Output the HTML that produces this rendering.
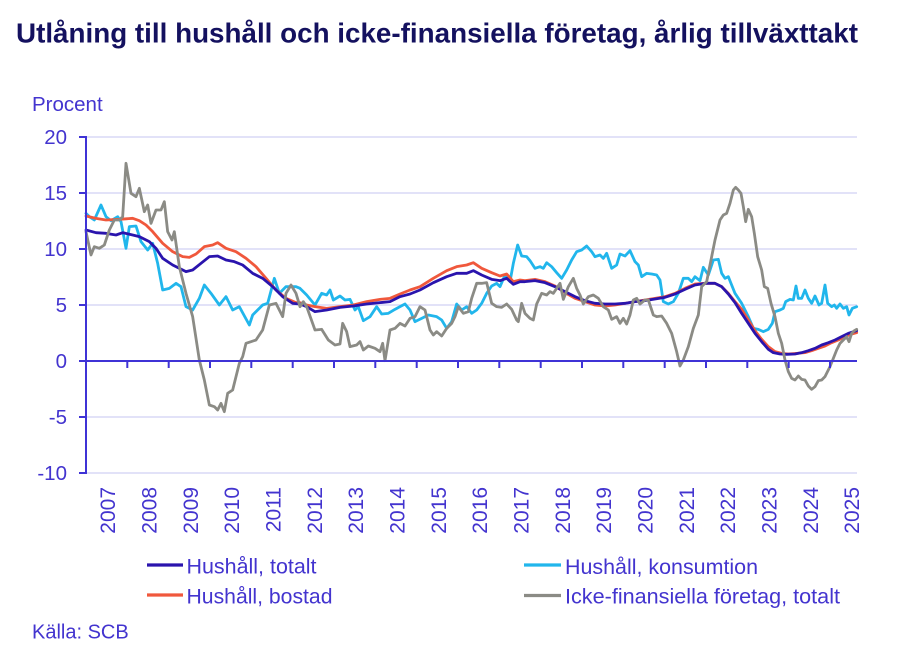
<!DOCTYPE html>
<html>
<head>
<meta charset="utf-8">
<style>
  html, body { margin:0; padding:0; background:#ffffff; }
  svg { display:block; }
  text { font-family: "Liberation Sans", "DejaVu Sans", sans-serif; }
</style>
</head>
<body>
<svg width="908" height="660" viewBox="0 0 908 660" xmlns="http://www.w3.org/2000/svg">
  <rect x="0" y="0" width="908" height="660" fill="#ffffff"/>

  <!-- Title -->
  <text x="16" y="42.5" font-size="27.8" font-weight="bold" fill="#14115f" textLength="842" lengthAdjust="spacingAndGlyphs">Utlåning till hushåll och icke-finansiella företag, årlig tillväxttakt</text>

  <!-- Y axis label -->
  <text x="32" y="111" font-size="20.5" fill="#4334cf">Procent</text>

  <!-- Gridlines -->
  <g stroke="#d9d9f6" stroke-width="1.5">
    <line x1="86" y1="137" x2="857" y2="137"/>
    <line x1="86" y1="193" x2="857" y2="193"/>
    <line x1="86" y1="249" x2="857" y2="249"/>
    <line x1="86" y1="305" x2="857" y2="305"/>
    <line x1="86" y1="417" x2="857" y2="417"/>
    <line x1="86" y1="473" x2="857" y2="473"/>
  </g>

  <!-- Y tick labels -->
  <g font-size="20.5" fill="#4334cf" text-anchor="end">
    <text x="67" y="144">20</text>
    <text x="67" y="200">15</text>
    <text x="67" y="256">10</text>
    <text x="67" y="312">5</text>
    <text x="67" y="368">0</text>
    <text x="67" y="424">-5</text>
    <text x="67" y="480">-10</text>
  </g>

  <!-- Series -->
  <g transform="translate(86,150) scale(0.333333)" fill="none" stroke-linejoin="round" stroke-linecap="round">
    <!-- Hushåll, konsumtion -->
    <polyline vector-effect="non-scaling-stroke" stroke="#21b6ec" stroke-width="2.8" points="0,190 10,200 25,210 45,165 60,200 75,212 95,200 105,215 120,295 130,230 150,228 165,275 185,300 200,280 215,340 230,420 250,415 270,400 285,410 300,470 320,480 340,445 355,405 375,430 400,465 420,440 440,480 460,470 490,525 500,495 530,465 545,460 565,385 580,430 600,410 630,410 642,415 662,435 687,465 707,430 722,435 732,420 742,450 762,438 777,450 792,448 807,480 817,470 832,512 852,500 872,470 887,492 907,490 927,478 942,470 957,462 972,480 987,515 1007,505 1027,495 1052,500 1067,510 1082,535 1097,515 1112,462 1127,480 1142,470 1157,490 1172,480 1187,460 1202,430 1217,408 1232,400 1242,410 1257,375 1272,395 1282,340 1295,285 1307,318 1322,320 1332,332 1347,355 1362,350 1372,355 1382,338 1397,350 1412,368 1427,385 1442,360 1457,330 1472,305 1487,300 1502,288 1517,305 1527,320 1542,315 1552,325 1562,310 1577,355 1592,345 1602,312 1617,318 1632,302 1647,335 1657,345 1667,380 1682,370 1697,372 1712,375 1722,390 1732,455 1747,462 1762,455 1777,430 1792,385 1807,385 1817,395 1827,380 1842,392 1852,352 1867,375 1882,330 1897,328 1907,370 1917,385 1927,380 1935,400 1947,430 1967,460 1987,500 2002,535 2017,538 2032,545 2047,538 2059,520 2067,485 2082,480 2092,475 2099,455 2112,448 2122,450 2130,408 2137,445 2147,445 2157,420 2167,445 2177,460 2187,438 2199,465 2207,460 2217,405 2225,460 2237,470 2245,465 2252,475 2262,462 2272,475 2282,470 2289,495 2299,475 2312,470"/>
    <!-- Hushåll, bostad -->
    <polyline vector-effect="non-scaling-stroke" stroke="#f0583c" stroke-width="2.8" points="0,198 30,205 60,210 100,208 140,205 160,212 180,225 200,245 230,280 260,305 290,320 310,322 330,312 355,290 380,285 395,278 420,295 450,305 480,325 510,350 540,385 570,420 600,445 630,458 642,458 662,465 687,470 722,475 762,470 802,465 842,455 882,448 912,445 942,432 972,420 1002,410 1042,385 1082,362 1112,350 1142,345 1162,338 1187,355 1217,368 1242,378 1262,372 1282,395 1302,390 1317,392 1347,388 1377,395 1407,408 1437,428 1467,445 1497,455 1527,465 1557,468 1587,465 1617,460 1647,455 1677,450 1707,445 1737,440 1767,430 1797,415 1827,402 1857,400 1887,400 1907,410 1927,430 1947,455 1967,478 1987,510 2007,542 2027,568 2047,590 2067,605 2087,610 2107,612 2132,610 2157,608 2177,602 2197,595 2217,588 2237,578 2257,570 2277,560 2297,552 2312,548"/>
    <!-- Hushåll, totalt -->
    <polyline vector-effect="non-scaling-stroke" stroke="#2a14ad" stroke-width="2.8" points="0,240 30,248 60,250 90,255 110,248 140,255 160,260 190,275 210,295 230,325 260,345 300,365 320,360 345,340 370,320 395,318 420,330 445,335 470,345 500,370 530,385 560,410 590,440 620,460 642,462 662,470 687,485 722,480 762,472 802,468 842,462 882,458 912,455 942,440 972,432 1002,420 1042,398 1082,380 1112,370 1142,370 1162,362 1187,375 1217,388 1242,392 1262,385 1282,403 1302,395 1317,395 1347,392 1377,398 1407,410 1437,425 1467,440 1497,452 1527,460 1557,462 1587,462 1617,460 1647,455 1677,452 1707,447 1737,442 1767,432 1797,418 1827,405 1857,400 1887,400 1907,410 1927,432 1947,458 1967,490 1987,520 2007,550 2027,575 2047,598 2062,608 2082,612 2102,613 2127,612 2147,608 2167,602 2187,595 2207,585 2227,578 2247,570 2267,560 2287,550 2312,542"/>
    <!-- Icke-finansiella företag, totalt -->
    <polyline vector-effect="non-scaling-stroke" stroke="#8b8b85" stroke-width="2.8" points="0,245 15,315 25,290 40,295 55,285 70,240 85,210 100,210 110,200 120,40 135,130 150,140 160,115 175,185 185,165 195,220 210,180 225,180 235,155 245,245 258,270 265,245 280,350 300,430 320,500 340,630 355,690 370,765 385,770 395,780 405,760 415,785 425,730 440,720 460,640 470,620 480,580 495,575 510,570 530,540 550,465 570,460 590,500 600,430 615,405 630,430 642,470 652,455 662,470 687,540 707,538 727,570 747,585 762,582 770,520 782,545 792,590 812,585 822,575 832,600 847,588 867,595 882,605 890,580 897,632 912,540 927,535 942,520 957,528 972,505 987,500 1002,470 1017,480 1032,540 1042,555 1052,545 1067,558 1082,535 1097,520 1107,500 1117,470 1132,490 1147,485 1157,445 1172,400 1187,400 1202,398 1217,460 1232,470 1247,472 1262,462 1277,478 1292,510 1297,515 1307,460 1317,490 1332,505 1342,510 1352,462 1367,430 1382,435 1392,425 1402,430 1412,415 1422,400 1432,448 1447,410 1462,385 1472,415 1482,435 1492,462 1507,440 1522,435 1537,445 1552,470 1567,480 1577,508 1592,500 1602,520 1612,505 1622,522 1632,495 1642,450 1652,445 1662,462 1677,450 1687,450 1702,495 1712,500 1727,498 1742,520 1757,550 1772,605 1782,648 1792,630 1807,590 1822,535 1837,495 1847,410 1862,395 1877,320 1887,270 1902,210 1912,195 1922,190 1932,160 1942,120 1949,112 1957,120 1965,130 1972,170 1979,215 1987,178 1997,200 2005,250 2015,320 2027,360 2035,410 2045,415 2055,460 2067,500 2077,550 2087,580 2097,630 2107,665 2117,685 2127,690 2137,678 2147,688 2157,690 2167,708 2177,718 2187,710 2197,692 2207,690 2217,680 2232,650 2242,625 2252,600 2262,580 2272,570 2282,560 2289,575 2297,550 2305,542 2312,538"/>
  </g>

  <!-- Axes -->
  <g stroke="#3f33d6" stroke-width="2">
    <line x1="86" y1="136" x2="86" y2="474"/>
    <line x1="85" y1="361" x2="857" y2="361"/>
    <!-- y ticks -->
    <line x1="79" y1="137" x2="86" y2="137"/>
    <line x1="79" y1="193" x2="86" y2="193"/>
    <line x1="79" y1="249" x2="86" y2="249"/>
    <line x1="79" y1="305" x2="86" y2="305"/>
    <line x1="79" y1="361" x2="86" y2="361"/>
    <line x1="79" y1="417" x2="86" y2="417"/>
    <line x1="79" y1="473" x2="86" y2="473"/>
    <!-- x ticks -->
    <line x1="127.3" y1="361" x2="127.3" y2="368"/>
    <line x1="168.7" y1="361" x2="168.7" y2="368"/>
    <line x1="210" y1="361" x2="210" y2="368"/>
    <line x1="251.3" y1="361" x2="251.3" y2="368"/>
    <line x1="292.7" y1="361" x2="292.7" y2="368"/>
    <line x1="334" y1="361" x2="334" y2="368"/>
    <line x1="375.3" y1="361" x2="375.3" y2="368"/>
    <line x1="416.7" y1="361" x2="416.7" y2="368"/>
    <line x1="458" y1="361" x2="458" y2="368"/>
    <line x1="499.3" y1="361" x2="499.3" y2="368"/>
    <line x1="540.7" y1="361" x2="540.7" y2="368"/>
    <line x1="582" y1="361" x2="582" y2="368"/>
    <line x1="623.3" y1="361" x2="623.3" y2="368"/>
    <line x1="664.7" y1="361" x2="664.7" y2="368"/>
    <line x1="706" y1="361" x2="706" y2="368"/>
    <line x1="747.3" y1="361" x2="747.3" y2="368"/>
    <line x1="788.7" y1="361" x2="788.7" y2="368"/>
    <line x1="830" y1="361" x2="830" y2="368"/>
  </g>

  <!-- X tick labels (rotated) -->
  <g font-size="21" fill="#4334cf" text-anchor="end">
    <text transform="translate(115.2,487) rotate(-90)">2007</text>
    <text transform="translate(156.5,487) rotate(-90)">2008</text>
    <text transform="translate(197.8,487) rotate(-90)">2009</text>
    <text transform="translate(239.2,487) rotate(-90)">2010</text>
    <text transform="translate(280.5,487) rotate(-90)">2011</text>
    <text transform="translate(321.8,487) rotate(-90)">2012</text>
    <text transform="translate(363.2,487) rotate(-90)">2013</text>
    <text transform="translate(404.5,487) rotate(-90)">2014</text>
    <text transform="translate(445.8,487) rotate(-90)">2015</text>
    <text transform="translate(487.2,487) rotate(-90)">2016</text>
    <text transform="translate(528.5,487) rotate(-90)">2017</text>
    <text transform="translate(569.8,487) rotate(-90)">2018</text>
    <text transform="translate(611.2,487) rotate(-90)">2019</text>
    <text transform="translate(652.5,487) rotate(-90)">2020</text>
    <text transform="translate(693.8,487) rotate(-90)">2021</text>
    <text transform="translate(735.2,487) rotate(-90)">2022</text>
    <text transform="translate(776.5,487) rotate(-90)">2023</text>
    <text transform="translate(817.8,487) rotate(-90)">2024</text>
    <text transform="translate(859.2,487) rotate(-90)">2025</text>
  </g>

  <!-- Legend -->
  <g stroke-width="3.2">
    <line x1="147" y1="565" x2="183" y2="565" stroke="#2a14ad"/>
    <line x1="147" y1="595" x2="183" y2="595" stroke="#f0583c"/>
    <line x1="524" y1="565" x2="561" y2="565" stroke="#21b6ec"/>
    <line x1="524" y1="595.5" x2="561" y2="595.5" stroke="#8b8b85"/>
  </g>
  <g font-size="21" fill="#4334cf">
    <text x="186.5" y="573.5" textLength="130" lengthAdjust="spacingAndGlyphs">Hushåll, totalt</text>
    <text x="186.5" y="603.5" textLength="146" lengthAdjust="spacingAndGlyphs">Hushåll, bostad</text>
    <text x="565" y="574" textLength="193" lengthAdjust="spacingAndGlyphs">Hushåll, konsumtion</text>
    <text x="565" y="603.5" textLength="275" lengthAdjust="spacingAndGlyphs">Icke-finansiella företag, totalt</text>
  </g>

  <!-- Source -->
  <text x="32" y="638.5" font-size="20" fill="#4334cf">Källa: SCB</text>
</svg>
</body>
</html>
